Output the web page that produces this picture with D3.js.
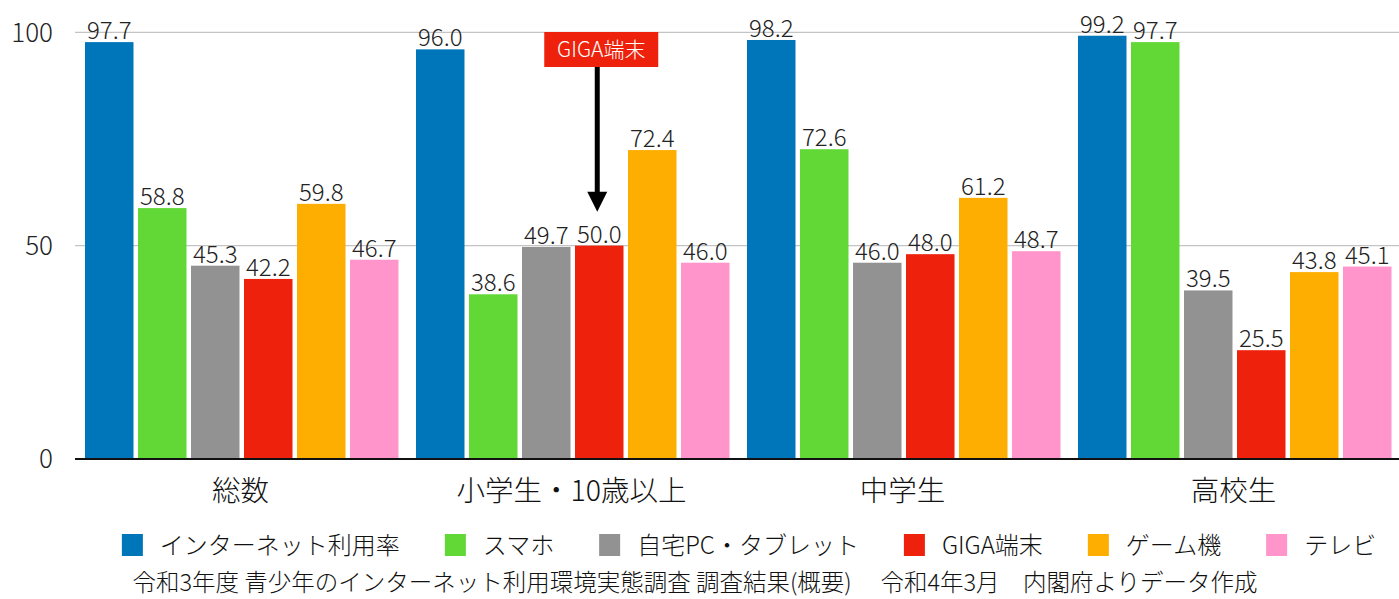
<!DOCTYPE html>
<html>
<head>
<meta charset="utf-8">
<script src="https://cdnjs.cloudflare.com/ajax/libs/d3/7.8.5/d3.min.js"></script>
<style>
  body { margin: 0; background: #fff; }
  svg { display: block; font-family: "Noto Sans CJK JP", "Noto Sans", sans-serif; font-weight: 300; }
</style>
</head>
<body>
<svg id="chart"></svg>
<script>
// データ
const categories = ["総数", "小学生・10歳以上", "中学生", "高校生"];
const seriesNames = ["インターネット利用率", "スマホ", "自宅PC・タブレット", "GIGA端末", "ゲーム機", "テレビ"];
const internet = [97.7, 96.0, 98.2, 99.2];
const smartphone = [58.8, 38.6, 72.6, 97.7];
const homePC = [45.3, 49.7, 46.0, 39.5];
const giga = [42.2, 50.0, 48.0, 25.5];
const game = [59.8, 72.4, 61.2, 43.8];
const tv = [46.7, 46.0, 48.7, 45.1];
const yTicks = [0, 50, 100];
const colors = ["#0076BA", "#61D836", "#929292", "#EE220C", "#FEAE00", "#FF95CA"];
const sourceText = "令和3年度 青少年のインターネット利用環境実態調査 調査結果(概要)\u3000 令和4年3月\u3000内閣府よりデータ作成";

const seriesValues = [internet, smartphone, homePC, giga, game, tv];
const rows = categories.map((c, i) => ({
  cat: c,
  values: seriesValues.map((s, j) => ({ key: seriesNames[j], value: s[i], idx: j }))
}));

const width = 1399;
const height = 599;
const svg = d3.select("#chart").attr("width", width).attr("height", height);

const x0 = d3.scaleBand().domain(categories).range([75, 1399]).padding(0);
const x1 = d3.scaleBand().domain(seriesNames).range([10, 323.5]).paddingInner(0.085).paddingOuter(0);
const y = d3.scaleLinear().domain([0, 100]).range([459, 32.3]);

// グリッド線
svg.append("g")
  .selectAll("line")
  .data(yTicks.filter(d => d > 0))
  .join("line")
  .attr("x1", 75).attr("x2", 1399)
  .attr("y1", d => y(d)).attr("y2", d => y(d))
  .attr("stroke", "#c4c4c4").attr("stroke-width", 1.2);

// y軸ラベル
const yAxis = d3.axisLeft(y).tickValues(yTicks).tickSize(0).tickPadding(0);
svg.append("g")
  .attr("transform", "translate(53,0)")
  .call(yAxis)
  .call(g => g.select(".domain").remove())
  .selectAll("text")
  .attr("font-size", 26)
  .attr("font-family", "\"Noto Sans CJK JP\", sans-serif")
  .attr("font-weight", 300)
  .attr("fill", "#222")
  .attr("dy", "0.34em");

// 棒
const groups = svg.append("g")
  .selectAll("g")
  .data(rows)
  .join("g")
  .attr("transform", d => `translate(${x0(d.cat)},0)`);

groups.selectAll("rect")
  .data(d => d.values)
  .join("rect")
  .attr("x", d => x1(d.key))
  .attr("width", x1.bandwidth())
  .attr("y", d => y(d.value))
  .attr("height", d => y(0) - y(d.value))
  .attr("fill", d => colors[d.idx]);

groups.selectAll("text.val")
  .data(d => d.values)
  .join("text")
  .attr("class", "val")
  .attr("x", d => x1(d.key) + x1.bandwidth() / 2)
  .attr("y", d => y(d.value) - 3)
  .attr("text-anchor", "middle")
  .attr("font-size", 24)
  .attr("fill", "#222")
  .text(d => d.value.toFixed(1));

// 基線
svg.append("line")
  .attr("x1", 75).attr("x2", 1399)
  .attr("y1", y(0)).attr("y2", y(0))
  .attr("stroke", "#111").attr("stroke-width", 2);

// カテゴリラベル
const xAxis = d3.axisBottom(x0).tickSize(0).tickPadding(0);
svg.append("g")
  .attr("transform", `translate(0,${y(0)})`)
  .call(xAxis)
  .call(g => g.select(".domain").remove())
  .selectAll("text")
  .attr("font-size", 28.5)
  .attr("font-family", "\"Noto Sans CJK JP\", sans-serif")
  .attr("font-weight", 300)
  .attr("fill", "#111")
  .attr("dy", 0)
  .attr("y", 42);

// 注釈 GIGA端末
const annCat = categories[1];
const annKey = seriesNames[3];
const annX = x0(annCat) + x1(annKey) + x1.bandwidth() / 2;
const annVal = giga[1];
const tipY = y(annVal) - 34;
const ann = svg.append("g");
ann.append("rect")
  .attr("x", annX - 55).attr("y", 32)
  .attr("width", 114).attr("height", 35)
  .attr("fill", "#EE220C");
ann.append("text")
  .attr("x", annX + 2).attr("y", 57)
  .attr("text-anchor", "middle")
  .attr("font-size", 21)
  .attr("fill", "#fff")
  .text("GIGA端末");
ann.append("line")
  .attr("x1", annX - 2).attr("x2", annX - 2)
  .attr("y1", 67).attr("y2", tipY - 18)
  .attr("stroke", "#000").attr("stroke-width", 5);
ann.append("path")
  .attr("d", `M${annX - 12},${tipY - 20} L${annX + 8},${tipY - 20} L${annX - 2},${tipY} Z`)
  .attr("fill", "#000");

// 凡例
const legend = svg.append("g");
const items = legend.selectAll("g")
  .data(seriesNames)
  .join("g");
items.append("rect")
  .attr("width", 21).attr("height", 22)
  .attr("y", 534)
  .attr("fill", (d, i) => colors[i]);
items.append("text")
  .attr("x", 38).attr("y", 554)
  .attr("font-size", 24)
  .attr("fill", "#111")
  .text(d => d);
let cx = 0;
const offsets = [];
items.each(function () {
  offsets.push(cx);
  const w = d3.select(this).select("text").node().getComputedTextLength();
  cx += 38 + w + 45;
});
const totalW = cx - 45;
const startX = 749 - totalW / 2;
items.attr("transform", (d, i) => `translate(${startX + offsets[i]},0)`);

// 出典
svg.append("text")
  .attr("x", 695).attr("y", 591)
  .attr("text-anchor", "middle")
  .attr("font-size", 23.5)
  .attr("fill", "#111")
  .text(sourceText);
</script>
</body>
</html>
